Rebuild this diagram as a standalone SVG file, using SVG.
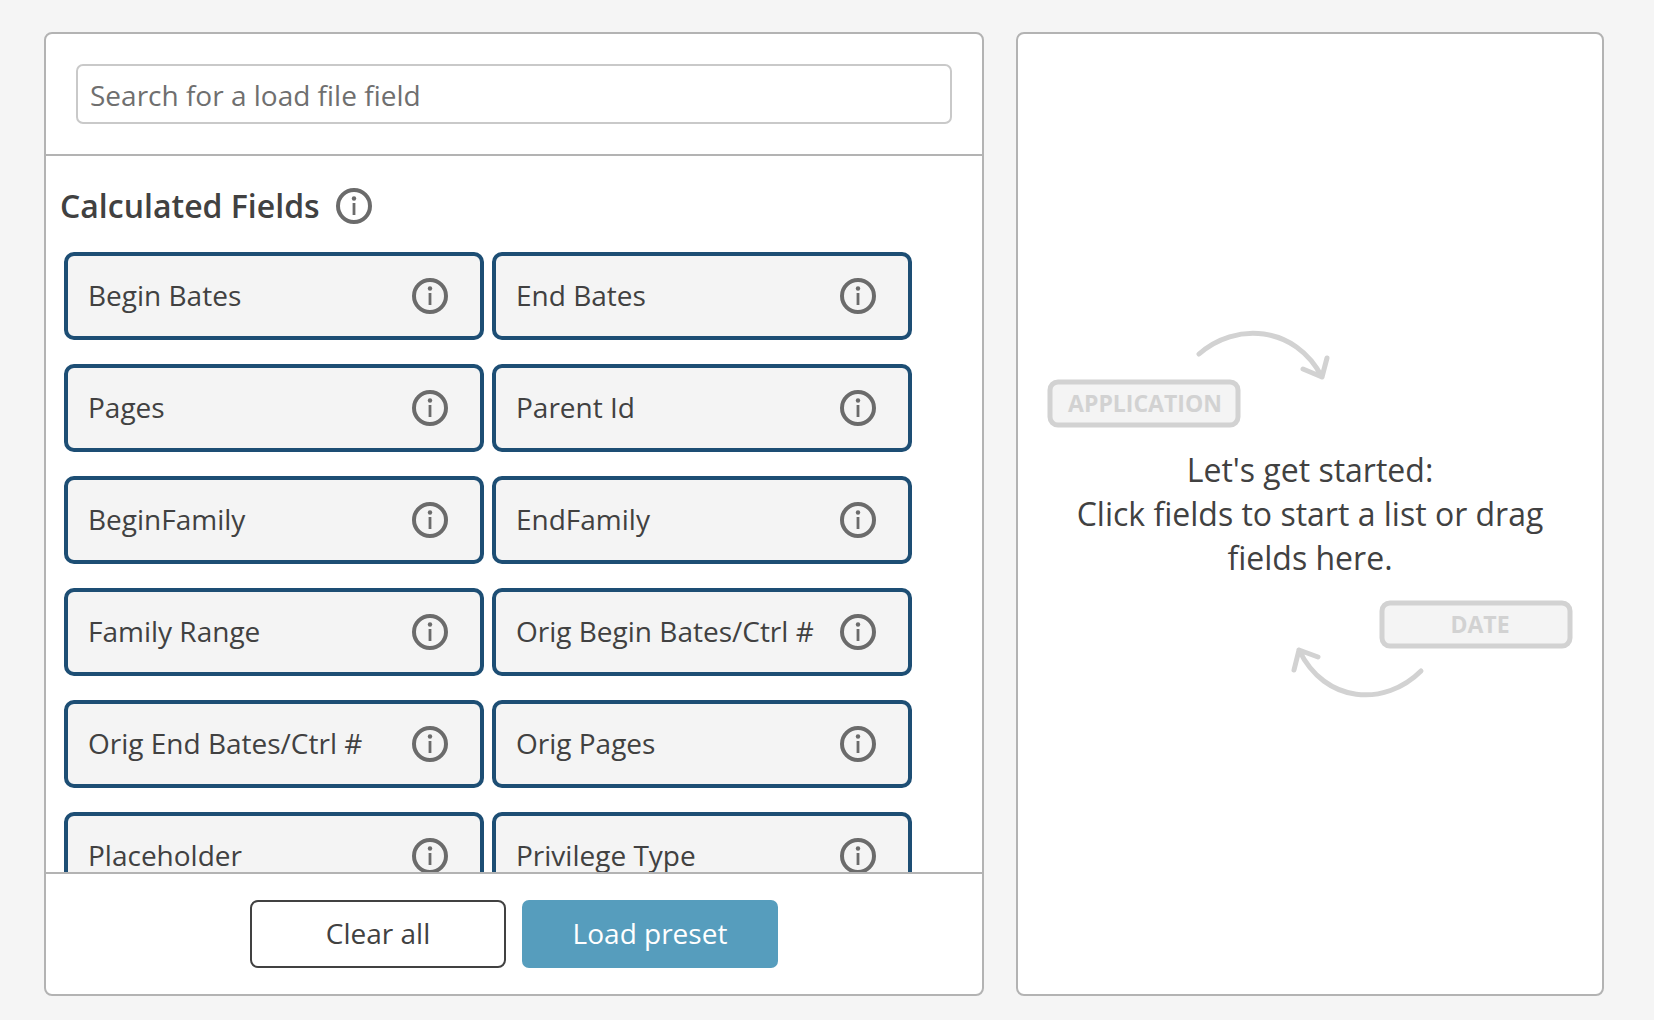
<svg xmlns="http://www.w3.org/2000/svg" width="1654" height="1020" viewBox="0 0 1654 1020">
<style>
text{font-family:"Open Sans","Noto Sans",sans-serif;fill:#414141}
.panel{fill:#fff;stroke:#b3b3b3;stroke-width:2}
.chip{fill:#f4f4f4;stroke:#1d4e74;stroke-width:4}
.lbl{font-size:28px}
.inf{fill:none;stroke:#6b6b6b;stroke-width:4}
.ghost{fill:#f4f4f4;stroke:#d2d2d2;stroke-width:5}
.gt{font-size:23px;font-weight:700;fill:#d2d2d2;text-anchor:middle}
.arr{fill:none;stroke:#d2d2d2;stroke-width:5;stroke-linecap:round;stroke-linejoin:round}
.msg{font-size:32px;text-anchor:middle}
</style>
<defs>
<g id="info"><circle class="inf" r="16"/><circle r="2.200" cy="-7.500" fill="#6b6b6b"/><rect x="-1.400" y="-3" width="2.800" height="12" fill="#6b6b6b"/></g>
<clipPath id="listclip"><rect x="46" y="156" width="936" height="716"/></clipPath>
</defs>
<rect width="1654" height="1020" fill="#f5f5f5"/>
<g id="left-panel">
<rect class="panel" x="45" y="33" width="938" height="962" rx="7"/>
<line x1="45" y1="155" x2="983" y2="155" stroke="#b3b3b3" stroke-width="2"/>
<line x1="45" y1="873" x2="983" y2="873" stroke="#b3b3b3" stroke-width="2"/>
</g>
<g id="search"><rect x="77" y="65" width="874" height="58" rx="6" fill="#fff" stroke="#c9c9c9" stroke-width="2"/><text x="90" y="106" font-size="28" style="fill:#6f6f6f">Search for a load file field</text></g>
<g id="heading"><text x="60" y="218" font-size="32" font-weight="600">Calculated Fields</text><use href="#info" x="354" y="206"/></g>
<g clip-path="url(#listclip)">
<g id="n1"><rect class="chip" x="66" y="254" width="416" height="84" rx="8"/><text class="lbl" x="88" y="306">Begin Bates</text><use href="#info" x="430" y="296"/></g>
<g id="n2"><rect class="chip" x="494" y="254" width="416" height="84" rx="8"/><text class="lbl" x="516" y="306">End Bates</text><use href="#info" x="858" y="296"/></g>
<g id="n3"><rect class="chip" x="66" y="366" width="416" height="84" rx="8"/><text class="lbl" x="88" y="418">Pages</text><use href="#info" x="430" y="408"/></g>
<g id="n4"><rect class="chip" x="494" y="366" width="416" height="84" rx="8"/><text class="lbl" x="516" y="418">Parent Id</text><use href="#info" x="858" y="408"/></g>
<g id="n5"><rect class="chip" x="66" y="478" width="416" height="84" rx="8"/><text class="lbl" x="88" y="530">BeginFamily</text><use href="#info" x="430" y="520"/></g>
<g id="n6"><rect class="chip" x="494" y="478" width="416" height="84" rx="8"/><text class="lbl" x="516" y="530">EndFamily</text><use href="#info" x="858" y="520"/></g>
<g id="n7"><rect class="chip" x="66" y="590" width="416" height="84" rx="8"/><text class="lbl" x="88" y="642">Family Range</text><use href="#info" x="430" y="632"/></g>
<g id="n8"><rect class="chip" x="494" y="590" width="416" height="84" rx="8"/><text class="lbl" x="516" y="642">Orig Begin Bates/Ctrl #</text><use href="#info" x="858" y="632"/></g>
<g id="n9"><rect class="chip" x="66" y="702" width="416" height="84" rx="8"/><text class="lbl" x="88" y="754">Orig End Bates/Ctrl #</text><use href="#info" x="430" y="744"/></g>
<g id="n10"><rect class="chip" x="494" y="702" width="416" height="84" rx="8"/><text class="lbl" x="516" y="754">Orig Pages</text><use href="#info" x="858" y="744"/></g>
<g id="n11"><rect class="chip" x="66" y="814" width="416" height="84" rx="8"/><text class="lbl" x="88" y="866">Placeholder</text><use href="#info" x="430" y="856"/></g>
<g id="n12"><rect class="chip" x="494" y="814" width="416" height="84" rx="8"/><text class="lbl" x="516" y="866">Privilege Type</text><use href="#info" x="858" y="856"/></g>
</g>
<g id="clear-all"><rect x="251" y="901" width="254" height="66" rx="7" fill="#fff" stroke="#414141" stroke-width="2"/><text x="378" y="944" font-size="28" text-anchor="middle">Clear all</text></g>
<g id="load-preset"><rect x="522" y="900" width="256" height="68" rx="7" fill="#569dbd"/><text x="650" y="944" font-size="28" text-anchor="middle" style="fill:#fff">Load preset</text></g>
<g id="right-panel"><rect class="panel" x="1017" y="33" width="586" height="962" rx="7"/></g>
<g id="ghost-application"><rect class="ghost" x="1050" y="382" width="188" height="43" rx="8"/><text class="gt" x="1145" y="412">APPLICATION</text></g>
<g id="ghost-date"><rect class="ghost" x="1382" y="603" width="188" height="43" rx="8"/><text class="gt" x="1480" y="633">DATE</text></g>
<g id="message"><text class="msg" x="1310" y="482">Let's get started:</text><text class="msg" x="1310" y="526">Click fields to start a list or drag</text><text class="msg" x="1310" y="570">fields here.</text></g>
<g id="connectors">
<path class="arr" d="M1199 354C1235 322 1295 325 1322 377M1303 369L1322 377L1327 358"/>
<path class="arr" d="M1421 671C1385 707 1325 704 1299 650M1318 657L1299 650L1294 670"/>
</g>
</svg>
